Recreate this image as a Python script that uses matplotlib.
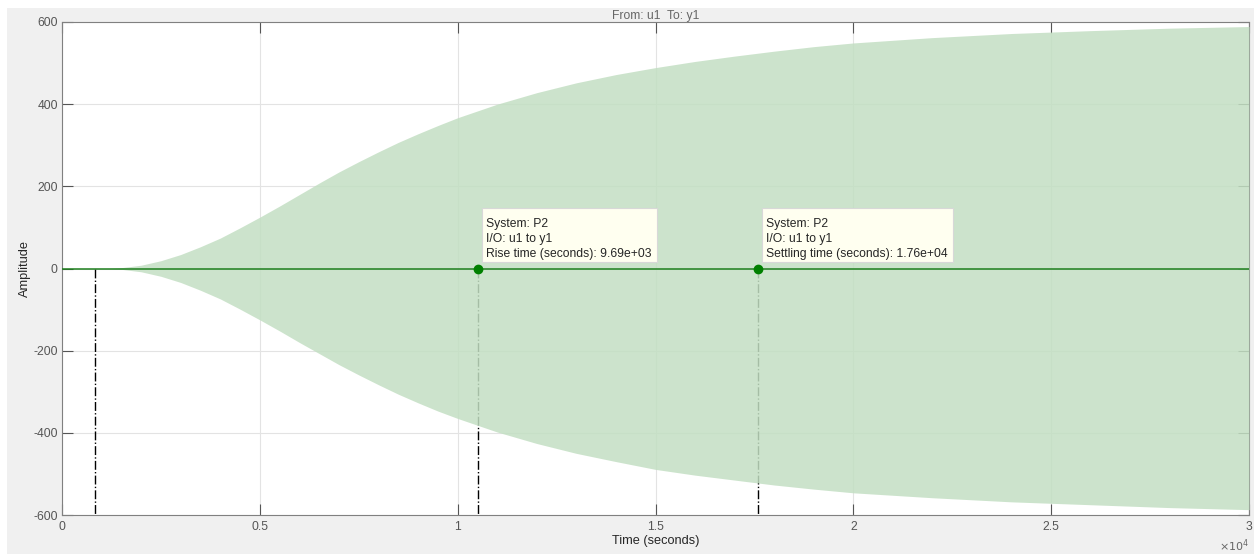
import matplotlib.pyplot as plt
from matplotlib.patches import Rectangle

# Step response envelope of P2 (seconds, amplitude)
t_env = [0, 1000, 1200, 1500, 2000, 2500, 3000, 3500, 4000, 4500, 5000, 5500, 6000,
         6500, 7000, 7500, 8000, 8500, 9000, 9500, 10000, 11000, 12000, 13000, 14000,
         15000, 16000, 17000, 18000, 19000, 20000, 22000, 24000, 26000, 28000, 30000]
env_upper = [0, 0, 0, 2, 8, 19, 34, 53, 74, 99, 125, 152, 180,
             208, 235, 260, 284, 307, 328, 348, 367, 400, 428, 452, 472,
             489, 504, 517, 529, 540, 549, 562, 572, 579, 585, 589]
env_lower = [0, 0, 0, -2, -8, -19, -34, -53, -74, -99, -125, -152, -180,
             -207, -234, -259, -283, -306, -327, -347, -365, -398, -426, -450, -470,
             -489, -503, -515, -527, -537, -546, -558, -568, -575, -582, -587]

# Characteristics
t10 = 834
rise_time = 9690
settling_time = 17600

xticks = [0, 5000, 10000, 15000, 20000, 25000, 30000]
xticklabels = ["0", "0.5", "1", "1.5", "2", "2.5", "3"]
yticks = [-600, -400, -200, 0, 200, 400, 600]

plt.rcParams['font.family'] = ['Liberation Sans', 'DejaVu Sans']
plt.rcParams['axes.unicode_minus'] = False

fig = plt.figure(figsize=(12.56, 5.54), dpi=100, facecolor="white")
fig.patches.append(Rectangle((7 / 1256, 0), 1247 / 1256, 1 - 8 / 554,
                             transform=fig.transFigure, facecolor="#F0F0F0",
                             edgecolor="none", zorder=-10))
ax = fig.add_axes([62 / 1256, 1 - 515 / 554, 1187 / 1256, 493 / 554])
ax.set_facecolor("white")

green = "#008000"
rise_t = t10 + rise_time

# dash-dot markers for 10%, 90% and settling times
for tv in [t10, rise_t, settling_time]:
    ax.plot([tv, tv], [0, -600], color="black", linestyle="-.", linewidth=1, zorder=2)

ax.fill_between(t_env, env_lower, env_upper, color="#C3DFC3", alpha=0.85,
                linewidth=0, zorder=3)
ax.axhline(0, color="#1E7F1E", linewidth=1.1, zorder=4)

ax.plot([rise_t, settling_time], [0, 0], "o", color=green, markersize=6, zorder=5)

ax.set_xlim(0, 30000)
ax.set_ylim(-600, 600)
ax.set_xticks(xticks)
ax.set_xticklabels(xticklabels)
ax.set_yticks(yticks)
ax.grid(True, color="#E3E3E3", linewidth=0.8)
ax.set_axisbelow(True)
ax.tick_params(direction="in", length=8, width=0.8, colors="#555555", labelsize=8.7,
               top=True, right=True, pad=4)
ax.tick_params(axis="y", pad=3)
for s in ax.spines.values():
    s.set_color("#808080")
    s.set_linewidth(0.8)

ax.set_title("From: u1  To: y1", fontsize=8.7, color="#666666", pad=2)
ax.set_xlabel("Time (seconds)", fontsize=9.2, color="#262626", labelpad=2)
ax.set_ylabel("Amplitude", fontsize=9.2, color="#262626", labelpad=2)
ax.text(1.0, -0.046, r"$\times10^{4}$", transform=ax.transAxes, ha="right", va="top",
        fontsize=8, color="#666666")

# data tips
tips = [
    (rise_t, "System: P2\nI/O: u1 to y1\nRise time (seconds): %.2e" % rise_time),
    (settling_time, "System: P2\nI/O: u1 to y1\nSettling time (seconds): %.2e" % settling_time),
]
tip_texts = []
for tx, label in tips:
    t = ax.annotate(label, xy=(tx, 0), xytext=(8, 51), textcoords="offset pixels",
                    fontsize=8.7, color="#262626", linespacing=1.36,
                    ha="left", va="top", zorder=7)
    tip_texts.append(t)

fig.canvas.draw()
renderer = fig.canvas.get_renderer()
inv = ax.transData.inverted()
for t in tip_texts:
    bb = t.get_window_extent(renderer)
    x0, y0 = inv.transform((bb.x0 - 4, bb.y0 - 2))
    x1, y1 = inv.transform((bb.x1 + 5, bb.y1 + 10))
    ax.add_patch(Rectangle((x0, y0), x1 - x0, y1 - y0, facecolor="#FFFFF0",
                           edgecolor="#D8D8D8", linewidth=0.8, zorder=6))

fig.savefig("out.png", dpi=100, facecolor=fig.get_facecolor())
